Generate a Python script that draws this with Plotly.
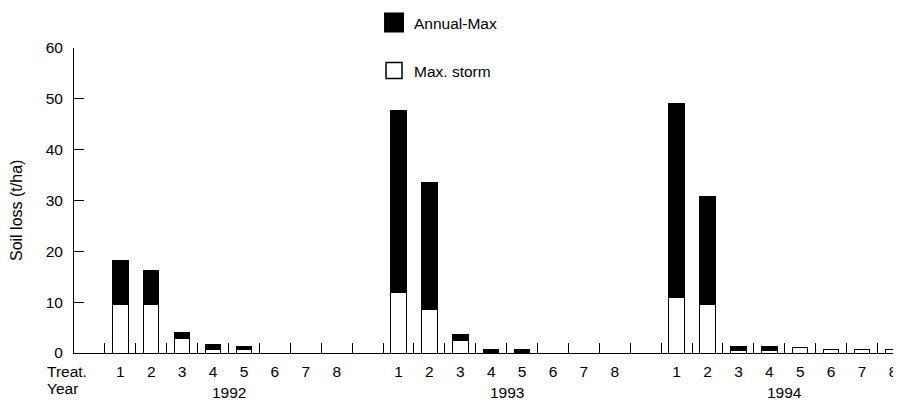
import plotly.graph_objects as go

years = ["1992", "1993", "1994"]
treatments = ["1", "2", "3", "4", "5", "6", "7", "8"]

# Annual soil loss (t/ha) = top of each stacked bar
annual_1992 = [18.1, 16.3, 4.0, 1.7, 1.2, 0, 0, 0]
annual_1993 = [47.8, 33.6, 3.6, 0.6, 0.6, 0, 0, 0]
annual_1994 = [49.0, 30.8, 1.2, 1.2, 1.1, 0.6, 0.6, 0.6]

# Maximum single storm soil loss (t/ha) = white part
max_storm_1992 = [9.6, 9.6, 2.9, 0.6, 0.6, 0, 0, 0]
max_storm_1993 = [11.9, 8.5, 2.5, 0, 0, 0, 0, 0]
max_storm_1994 = [11.0, 9.6, 0.5, 0.5, 1.1, 0.6, 0.6, 0.6]

y_ticks = [0, 10, 20, 30, 40, 50, 60]

annual = [annual_1992, annual_1993, annual_1994]
max_storm = [max_storm_1992, max_storm_1993, max_storm_1994]

# slot positions: slot 0 = "Treat." label, one empty slot between years
n_t = len(treatments)
xs, storm_vals, diff_vals, tick_vals, tick_text = [], [], [], [], []
year_centers = []
for yi, yr in enumerate(years):
    base = yi * (n_t + 1)
    for ti, t in enumerate(treatments):
        pos = base + ti + 1
        xs.append(pos)
        storm_vals.append(max_storm[yi][ti])
        diff_vals.append(round(annual[yi][ti] - max_storm[yi][ti], 2))
        tick_vals.append(pos)
        tick_text.append(t)
    year_centers.append(base + (n_t + 1) / 2)

n_slots = len(years) * (n_t + 1)
boundaries = [k + 0.5 for k in range(n_slots - 1)]

fig = go.Figure()
fig.add_trace(go.Bar(x=xs, y=storm_vals, width=0.5, name="Max. storm",
                     marker=dict(color="white", line=dict(color="black", width=1)),
                     showlegend=False))
fig.add_trace(go.Bar(x=xs, y=diff_vals, width=0.5, name="Annual-Max",
                     marker=dict(color="black", line=dict(color="black", width=1)),
                     showlegend=False))
# legend swatches
fig.add_trace(go.Scatter(x=[None], y=[None], mode="markers", name="Annual-Max",
                         marker=dict(symbol="square", size=16, color="black",
                                     line=dict(color="black", width=4)),
                         legend="legend"))
fig.add_trace(go.Scatter(x=[None], y=[None], mode="markers", name="Max. storm",
                         marker=dict(symbol="square", size=16, color="white",
                                     line=dict(color="black", width=1.5)),
                         legend="legend2"))

font_family = "Liberation Sans, Arial, sans-serif"
fs = 15.5

annotations = []
for yr, xc in zip(years, year_centers):
    annotations.append(dict(x=xc, y=-0.131, xref="x", yref="paper", text=yr,
                            showarrow=False, xanchor="center", yanchor="middle",
                            font=dict(size=fs, color="black", family=font_family)))
annotations.append(dict(x=-0.035, y=-0.062, xref="paper", yref="paper", text="Treat.",
                        showarrow=False, xanchor="left", yanchor="middle",
                        font=dict(size=fs, color="black", family=font_family)))
annotations.append(dict(x=-0.035, y=-0.115, xref="paper", yref="paper", text="Year",
                        showarrow=False, xanchor="left", yanchor="middle",
                        font=dict(size=fs, color="black", family=font_family)))
annotations.append(dict(x=-0.0689, y=0.4656, xref="paper", yref="paper",
                        text="Soil loss (t/ha)", textangle=-90,
                        showarrow=False, xanchor="center", yanchor="middle",
                        font=dict(size=16, color="black", family=font_family)))

fig.update_layout(
    width=893, height=393,
    margin=dict(l=66, r=0, t=40, b=48, autoexpand=False),
    plot_bgcolor="white", paper_bgcolor="white",
    barmode="stack", bargap=0.5,
    font=dict(family=font_family, size=fs, color="black"),
    xaxis=dict(range=[-0.5, 26.26], showline=True, linecolor="black", linewidth=1,
               tickmode="array", tickvals=tick_vals, ticktext=tick_text, ticks="",
               showgrid=False, zeroline=False, ticklabelstandoff=4,
               tickfont=dict(size=fs, color="black"),
               minor=dict(tickmode="array", tickvals=boundaries, ticks="inside",
                          ticklen=10, tickcolor="black", tickwidth=1, showgrid=False)),
    yaxis=dict(range=[0, 60], showline=True, linecolor="black", linewidth=1,
               tickmode="array", tickvals=y_ticks, ticks="inside", ticklen=10,
               tickcolor="black", tickwidth=1, showgrid=False, zeroline=False,
               ticklabelstandoff=7,
               tickfont=dict(size=fs, color="black")),
    legend=dict(x=0.3628, y=1.082, xref="paper", yref="paper", xanchor="left", yanchor="middle",
                bgcolor="rgba(0,0,0,0)", font=dict(size=fs, color="black")),
    legend2=dict(x=0.3628, y=0.9246, xref="paper", yref="paper", xanchor="left", yanchor="middle",
                 bgcolor="rgba(0,0,0,0)", font=dict(size=fs, color="black")),
    annotations=annotations,
)

fig.write_html("out.html")
